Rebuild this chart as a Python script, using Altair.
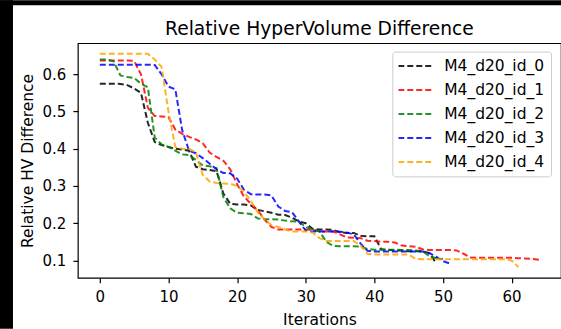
import altair as alt
import pandas as pd

series_names = ["M4_d20_id_0", "M4_d20_id_1", "M4_d20_id_2", "M4_d20_id_3", "M4_d20_id_4"]
series_colors = ["black", "red", "green", "blue", "orange"]

x_ticks = [0, 10, 20, 30, 40, 50, 60]
y_ticks = [0.1, 0.2, 0.3, 0.4, 0.5, 0.6]

rhv_id_0 = [0.575, 0.575, 0.575, 0.574, 0.571, 0.562, 0.55, 0.47, 0.418, 0.41,
            0.405, 0.40, 0.398, 0.395, 0.352, 0.345, 0.343, 0.34, 0.28, 0.252,
            0.25, 0.25, 0.248, 0.236, 0.232, 0.228, 0.223, 0.222, 0.215, 0.205,
            0.20, 0.185, 0.183, 0.183, 0.182, 0.176, 0.174, 0.174, 0.166, 0.165,
            0.165, 0.13, 0.128, 0.127, 0.127, 0.125, 0.125, 0.125, 0.12, 0.093]
rhv_id_1 = [0.637, 0.637, 0.637, 0.637, 0.637, 0.636, 0.60, 0.51, 0.488, 0.487,
            0.485, 0.452, 0.44, 0.432, 0.425, 0.415, 0.39, 0.378, 0.368, 0.345,
            0.305, 0.272, 0.252, 0.235, 0.21, 0.19, 0.183, 0.183, 0.183, 0.183,
            0.183, 0.182, 0.178, 0.178, 0.178, 0.17, 0.162, 0.161, 0.16, 0.153,
            0.152, 0.15, 0.15, 0.148, 0.14, 0.138, 0.137, 0.13, 0.128, 0.128,
            0.128, 0.128, 0.127, 0.118, 0.108, 0.107, 0.107, 0.107, 0.107, 0.107,
            0.107, 0.106, 0.105, 0.104, 0.102]
rhv_id_2 = [0.64, 0.64, 0.635, 0.597, 0.593, 0.59, 0.575, 0.565, 0.43, 0.412,
            0.405, 0.395, 0.385, 0.383, 0.37, 0.355, 0.353, 0.348, 0.27, 0.24,
            0.228, 0.227, 0.225, 0.213, 0.211, 0.211, 0.21, 0.207, 0.205, 0.204,
            0.19, 0.183, 0.178, 0.15, 0.139, 0.138, 0.138, 0.138, 0.137, 0.131,
            0.129, 0.129, 0.129, 0.129, 0.128, 0.128, 0.127, 0.125, 0.112, 0.106,
            0.104]
rhv_id_3 = [0.626, 0.626, 0.626, 0.626, 0.626, 0.626, 0.626, 0.626, 0.625, 0.60,
            0.567, 0.56, 0.45, 0.395, 0.388, 0.375, 0.36, 0.345, 0.335, 0.334,
            0.32, 0.29, 0.278, 0.277, 0.277, 0.275, 0.245, 0.233, 0.23, 0.205,
            0.18, 0.178, 0.178, 0.178, 0.178, 0.177, 0.175, 0.17, 0.145, 0.126,
            0.124, 0.124, 0.124, 0.124, 0.124, 0.124, 0.124, 0.124, 0.12, 0.11,
            0.098, 0.092]
rhv_id_4 = [0.655, 0.655, 0.655, 0.655, 0.655, 0.655, 0.655, 0.655, 0.64, 0.62,
            0.50, 0.405, 0.40, 0.40, 0.39, 0.33, 0.312, 0.308, 0.307, 0.306,
            0.30, 0.285, 0.26, 0.23, 0.21, 0.195, 0.19, 0.183, 0.178, 0.178,
            0.178, 0.175, 0.16, 0.152, 0.152, 0.152, 0.152, 0.152, 0.14, 0.118,
            0.116, 0.116, 0.116, 0.116, 0.116, 0.116, 0.104, 0.103, 0.103, 0.103,
            0.103, 0.103, 0.103, 0.103, 0.103, 0.103, 0.103, 0.103, 0.103, 0.103,
            0.10, 0.082]

all_series = [rhv_id_0, rhv_id_1, rhv_id_2, rhv_id_3, rhv_id_4]
rows = []
for name, vals in zip(series_names, all_series):
    for i, v in enumerate(vals):
        rows.append({"series": name, "iteration": i, "rhv": v})
df = pd.DataFrame(rows)

FONT = "DejaVu Sans"
W, H = 484, 235

axis_common = dict(
    grid=False, domain=False, ticks=True, tickSize=5, tickWidth=1.2,
    tickColor="black", labelFontSize=15, labelColor="black", labelFont=FONT,
    titleFontSize=15.5, titleFont=FONT, titleFontWeight="normal",
    titleColor="black",
)

lines = alt.Chart(df).mark_line(strokeDash=[6, 3], strokeWidth=2, opacity=0.85).encode(
    x=alt.X("iteration:Q",
            scale=alt.Scale(domain=[-3.2, 67.2], nice=False, zero=False),
            axis=alt.Axis(values=x_ticks, title="Iterations", titlePadding=8,
                          labelPadding=6.5, **axis_common)),
    y=alt.Y("rhv:Q",
            scale=alt.Scale(domain=[0.0534, 0.6836], nice=False, zero=False),
            axis=alt.Axis(values=y_ticks, format=".1f", title="Relative HV Difference",
                          titlePadding=7, labelPadding=7, **axis_common)),
    color=alt.Color("series:N",
                    scale=alt.Scale(domain=series_names, range=series_colors),
                    legend=alt.Legend(
                        title=None, orient="none", legendX=315, legendY=8.4,
                        fillColor="white", strokeColor="#cccccc", cornerRadius=3,
                        padding=6, labelFontSize=15.5, labelFont=FONT, labelColor="black",
                        symbolType="stroke", symbolSize=1156, symbolStrokeWidth=2,
                        symbolDash=[6, 3], symbolOffset=-1, symbolOpacity=0.85,
                        labelOffset=11, clipHeight=17, rowPadding=7,
                    )),
)

band_left = alt.Chart(alt.Data(values=[{}])).mark_rect(color="black").encode(
    x=alt.value(-78), x2=alt.value(-65), y=alt.value(-43), y2=alt.value(H + 51))
band_top = alt.Chart(alt.Data(values=[{}])).mark_rect(color="black").encode(
    x=alt.value(-78), x2=alt.value(W), y=alt.value(-43), y2=alt.value(-38))

chart = alt.layer(band_left, band_top, lines).properties(
    width=W, height=H,
    title=alt.TitleParams("Relative HyperVolume Difference", font=FONT, fontSize=18.7,
                          fontWeight="normal", color="black", anchor="middle",
                          frame="group", offset=-53, baseline="alphabetic"),
    autosize=alt.AutoSizeParams(type="none"),
    padding={"left": 78, "top": 43, "right": 0, "bottom": 51},
    background="white",
).configure_view(stroke="black", strokeWidth=1.2)

chart.save("out.html", embed_options={"renderer": "svg", "actions": False})
